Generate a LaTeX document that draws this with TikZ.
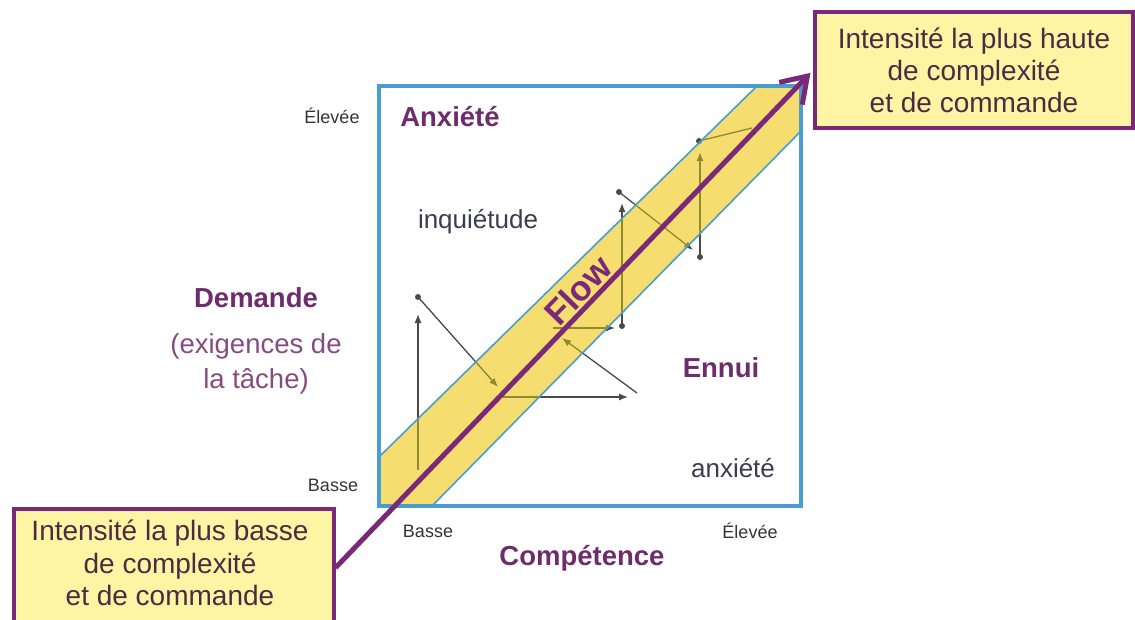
\documentclass[tikz,border=0pt]{standalone}
\usepackage{fontspec}
\setmainfont{Liberation Sans}
\usetikzlibrary{arrows.meta}
\definecolor{sqblue}{HTML}{4A9DCF}
\definecolor{bandyellow}{HTML}{F6DD70}
\definecolor{boxyellow}{HTML}{FDF5A3}
\definecolor{flowpurple}{HTML}{7A2878}
\definecolor{labpurple}{HTML}{6E2C6C}
\definecolor{boxtext}{HTML}{4E2A42}
\definecolor{darktxt}{HTML}{333333}
\definecolor{graytxt}{HTML}{3C3C50}
\definecolor{arrgray}{HTML}{4A4A4A}
\definecolor{arrolive}{HTML}{8F8A2E}
\tikzset{
  callout/.style={draw=flowpurple, line width=3.5pt, fill=boxyellow, text=boxtext,
    align=center, inner sep=0pt, font=\fontsize{28}{32}\selectfont},
  axislab/.style={text=darktxt, font=\fontsize{18}{20}\selectfont, inner sep=0pt},
  boldlab/.style={text=labpurple, font=\fontsize{27.5}{30}\selectfont\bfseries, inner sep=0pt},
  reglab/.style={text=graytxt, font=\fontsize{26}{30}\selectfont, inner sep=0pt},
  trajarrow/.style={line width=1.3pt, -{Latex[length=9pt,width=7pt]}},
  trajline/.style={line width=1.3pt},
  flowarrow/.style={draw=flowpurple, line width=5pt, shorten >=4pt, -{Straight Barb[length=24pt,width=32pt,line width=5pt]}},
}
\newcommand{\drawtrajectory}[1]{%
  \draw[trajarrow, #1] (a0) -- (a1);
  \draw[trajarrow, #1] (d1) -- (a2);
  \draw[trajarrow, #1] (a3) -- (a4);
  \draw[trajarrow, #1] (a5) -- (a6);
  \draw[trajarrow, #1] (a7) -- (a8);
  \draw[trajarrow, #1] (d5) -- (a9);
  \draw[trajarrow, #1] (d7) -- (a10);
  \draw[trajarrow, #1] (d8) -- (a11);
  \draw[trajline, #1] (d9) -- (a12);
}
\begin{document}
\begin{tikzpicture}[x=1pt,y=-1pt]
\useasboundingbox (0,0) rectangle (1135,619);
% trajectory points
\coordinate (a0) at (418,470);
\coordinate (a1) at (418,314);
\coordinate (d1) at (418,297);
\coordinate (a2) at (498,387);
\coordinate (a3) at (503,397);
\coordinate (a4) at (628,397);
\coordinate (a5) at (637,393);
\coordinate (a6) at (562,338);
\coordinate (a7) at (553,328);
\coordinate (a8) at (615,328);
\coordinate (d5) at (622,326);
\coordinate (a9) at (622,203);
\coordinate (d7) at (619,192);
\coordinate (a10) at (693,250);
\coordinate (d8) at (700,257);
\coordinate (a11) at (700,152);
\coordinate (d9) at (699,141);
\coordinate (a12) at (752,128);
\drawtrajectory{draw=arrgray}
% flow band
\fill[bandyellow] (379,457) -- (757,86) -- (801,86) -- (801,131) -- (432,506) -- (379,506) -- cycle;
\begin{scope}
  \clip (379,457) -- (757,86) -- (801,86) -- (801,131) -- (432,506) -- (379,506) -- cycle;
  \drawtrajectory{draw=arrolive}
\end{scope}
\foreach \p in {d1,d5,d7,d8,d9} \fill[arrgray] (\p) circle (3pt);
\draw[sqblue, line width=1.6pt] (379,457) -- (757,86);
\draw[sqblue, line width=1.6pt] (801,131) -- (432,506);
% square
\node[draw=sqblue, line width=3.5pt, minimum width=422pt, minimum height=420pt, inner sep=0pt] (sq) at (590,296) {};
% labels
\node[axislab] (hiY) at (332,116) {Élevée};
\node[axislab] (loY) at (333,485) {Basse};
\node[axislab] (loX) at (428,531) {Basse};
\node[axislab] (hiX) at (750,531) {Élevée};
\node[boldlab] (anx) at (450,117) {Anxiété};
\node[reglab] (inq) at (478,222) {inquiétude};
\node[boldlab] (ennui) at (721,368) {Ennui};
\node[reglab] (anx2) at (733,468) {anxiété};
\node[boldlab] (dem) at (256,298) {Demande};
\node[text=labpurple!85!white, align=center, font=\fontsize{27.5}{35}\selectfont, inner sep=0pt] (exig) at (256,364) {(exigences de\\la tâche)};
\node[boldlab] (comp) at (582,558) {Compétence};
% callout boxes
\node[callout, minimum width=318pt, minimum height=116pt] (tr) at (974,70) {Intensité la plus haute\\de complexité\\et de commande};
\node[callout, minimum width=320pt, minimum height=118pt, anchor=north west] (bl) at (12,507) {};
\node[text=boxtext, align=center, font=\fontsize{28}{32.5}\selectfont, inner sep=0pt, anchor=north] (bltext) at (170,520) {Intensité la plus basse\\de complexité\\et de commande};
% main flow arrow
\draw[flowarrow] (bl.east) -- (tr.west);
\node[text=flowpurple, font=\fontsize{35}{36}\selectfont\bfseries, rotate=45.7, anchor=base, inner sep=0pt] (flow) at (587,299) {Flow};
\end{tikzpicture}
\end{document}
